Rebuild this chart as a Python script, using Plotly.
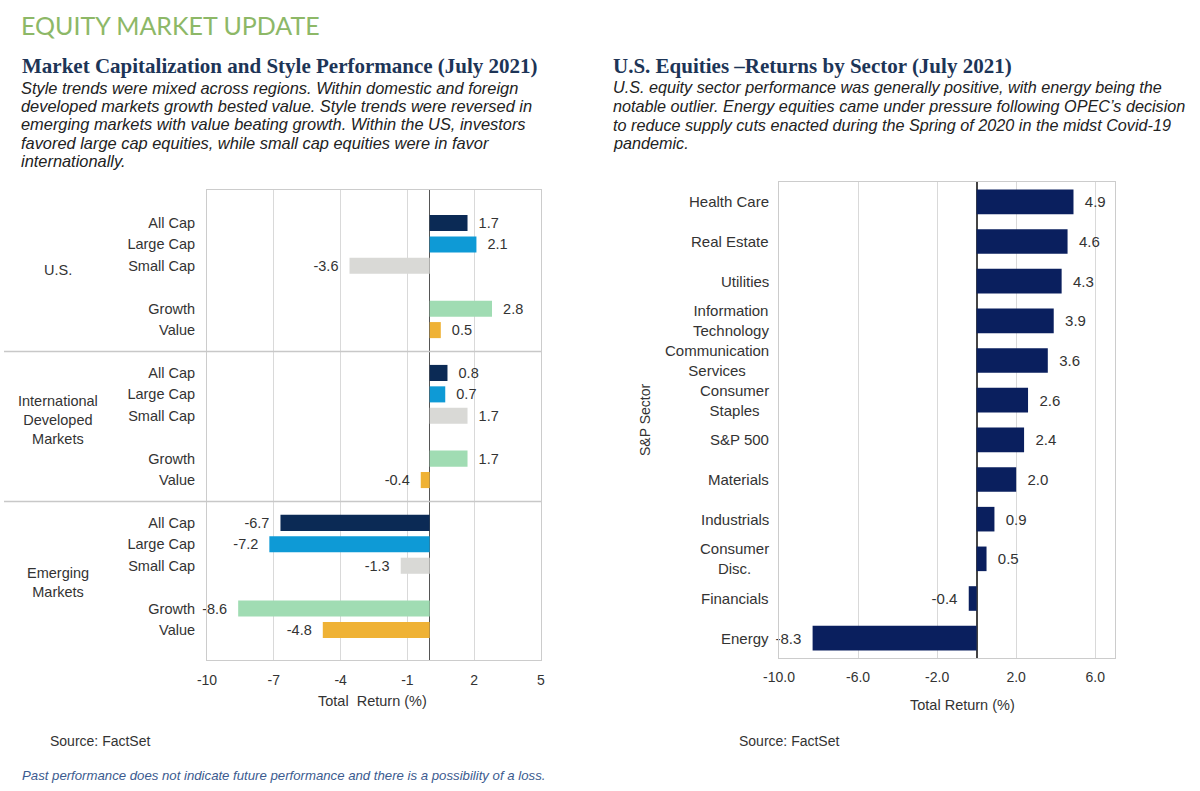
import plotly.graph_objects as go

# ---------------- data ----------------
groups = ["U.S.", "International<br>Developed<br>Markets", "Emerging<br>Markets"]
styles = ["All Cap", "Large Cap", "Small Cap", "Growth", "Value"]
style_colors = ["#0b2a55", "#0e9ad6", "#d9d9d6", "#a0dcb3", "#efb235"]
us_returns = [1.7, 2.1, -3.6, 2.8, 0.5]
intl_returns = [0.8, 0.7, 1.7, 1.7, -0.4]
em_returns = [-6.7, -7.2, -1.3, -8.6, -4.8]
left_ticks = [-10, -7, -4, -1, 2, 5]

sectors = ["Health Care", "Real Estate", "Utilities", "Information<br>Technology",
           "Communication<br>Services", "Consumer<br>Staples", "S&P 500", "Materials",
           "Industrials", "Consumer<br>Disc.", "Financials", "Energy"]
sector_returns = [4.9, 4.6, 4.3, 3.9, 3.6, 2.6, 2.4, 2.0, 0.9, 0.5, -0.4, -8.3]
right_ticks = [-10, -6, -2, 2, 6]

W, H = 1200, 791
def px(x):
    return x / W
def py(y):
    return 1 - y / H

FONT = "Liberation Sans, Arial, sans-serif"
TXT = "#333333"

fig = go.Figure()

# ---------------- left chart ----------------
within = [0, 1, 2, 4, 5]
group_step = 7
group_values = [us_returns, intl_returns, em_returns]

def lbl(v):
    return f"  {v:.1f}" if v >= 0 else f"{v:.1f}  "

tickvals, ticktext = [], []
for si, s in enumerate(styles):
    ys = [g * group_step + within[si] for g in range(len(groups))]
    xs = [group_values[g][si] for g in range(len(groups))]
    fig.add_trace(go.Bar(
        x=xs, y=ys, orientation="h", width=0.75,
        marker=dict(color=style_colors[si], line=dict(width=0)),
        text=[lbl(v) for v in xs], textposition="outside",
        textfont=dict(family=FONT, size=14.5, color=TXT),
        cliponaxis=False, xaxis="x", yaxis="y", showlegend=False,
        hoverinfo="x+y"))
    for g in range(len(groups)):
        tickvals.append(g * group_step + within[si])
        ticktext.append(s)

# ---------------- right chart ----------------
fig.add_trace(go.Bar(
    x=sector_returns, y=sectors, orientation="h", width=0.62,
    marker=dict(color="#0a1f5e", line=dict(width=0)),
    text=[lbl(v) for v in sector_returns], textposition="outside",
    textfont=dict(family=FONT, size=15, color=TXT),
    cliponaxis=False, xaxis="x2", yaxis="y2", showlegend=False))

L = dict(x0=207, x1=541, y0=190, y1=660)
R = dict(x0=779, x1=1115, y0=182, y1=658)

grid = "#d9d9d9"
frame = "#cccccc"
fig.update_layout(
    width=W, height=H, margin=dict(l=0, r=0, t=0, b=0, autoexpand=False),
    paper_bgcolor="white", plot_bgcolor="white",
    bargap=0.2, barmode="overlay",
    font=dict(family=FONT, color=TXT),
    xaxis=dict(domain=[px(L["x0"]), px(L["x1"])], range=[-10, 5],
               tickvals=left_ticks, ticktext=[str(t) for t in left_ticks],
               showgrid=True, gridcolor=grid, gridwidth=1,
               zeroline=True, zerolinecolor="#555555", zerolinewidth=1,
               showline=True, linecolor=frame, mirror=True, automargin=False,
               tickfont=dict(size=14, color=TXT), ticks="", ticklabelstandoff=7,
               anchor="y", fixedrange=True),
    yaxis=dict(domain=[py(L["y1"]), py(L["y0"])],
               range=[20.4, -1.54], tickvals=tickvals, ticktext=ticktext,
               showgrid=False, zeroline=False, showline=True, linecolor=frame,
               mirror=True, ticks="", ticklabelstandoff=8, automargin=False,
               tickfont=dict(size=14.5, color=TXT), anchor="x"),
    xaxis2=dict(domain=[px(R["x0"]), px(R["x1"])], range=[-10, 7],
                tickvals=right_ticks, ticktext=[f"{t:.1f}" for t in right_ticks],
                showgrid=True, gridcolor=grid, gridwidth=1,
                zeroline=True, zerolinecolor="#444444", zerolinewidth=1.5,
                showline=True, linecolor=frame, mirror=True, automargin=False,
                tickfont=dict(size=14, color=TXT), ticks="", ticklabelstandoff=6,
                anchor="y2"),
    yaxis2=dict(domain=[py(R["y1"]), py(R["y0"])], autorange="reversed",
                showticklabels=False, showgrid=False, zeroline=False,
                showline=True, linecolor=frame, mirror=True, ticks="", automargin=False,
                anchor="x2", categoryorder="array", categoryarray=sectors),
)

# separators in left chart
for g in range(1, len(groups)):
    ysep = g * group_step - 1
    fig.add_shape(type="line", xref="paper", yref="y", x0=px(4), x1=px(L["x1"]),
                  y0=ysep, y1=ysep, line=dict(color="#c8c8c8", width=1.5))

ann = []
# group labels
group_label_y = [2.2, 9.2, 16.8]
for g, name in enumerate(groups):
    ann.append(dict(text=name, x=px(58), y=group_label_y[g], xref="paper", yref="y",
                    xanchor="center", yanchor="middle", align="center", showarrow=False,
                    font=dict(family=FONT, size=14.5, color=TXT)))
# right chart category labels
for s in sectors:
    ann.append(dict(text=s, x=px(771), y=s, xref="paper", yref="y2",
                    xanchor="right", yanchor="middle", align="center", showarrow=False,
                    font=dict(family=FONT, size=15, color=TXT)))
# axis titles
ann.append(dict(text="Total  Return (%)", x=px(372), y=py(701), xref="paper", yref="paper",
                xanchor="center", yanchor="middle", showarrow=False,
                font=dict(family=FONT, size=14.5, color=TXT)))
ann.append(dict(text="Total Return (%)", x=px(962), y=py(705), xref="paper", yref="paper",
                xanchor="center", yanchor="middle", showarrow=False,
                font=dict(family=FONT, size=14.5, color=TXT)))
ann.append(dict(text="S&P Sector", x=px(645), y=py(420), xref="paper", yref="paper",
                xanchor="center", yanchor="middle", showarrow=False, textangle=-90,
                font=dict(family=FONT, size=14, color=TXT)))

# header texts
ann.append(dict(text="EQUITY MARKET UPDATE", x=px(19), y=py(25), xref="paper", yref="paper",
                xanchor="left", yanchor="middle", showarrow=False,
                font=dict(family="Lato, Open Sans, sans-serif", size=25, color="#8db867", weight=400)))

SERIF = "Liberation Serif, DejaVu Serif, serif"
NAVY = "#1d3557"
ann.append(dict(text="<b>Market Capitalization and Style Performance (July 2021)</b>",
                x=px(20), y=py(66), xref="paper", yref="paper", xanchor="left", yanchor="middle",
                showarrow=False, font=dict(family=SERIF, size=21, color=NAVY)))
ann.append(dict(text="<b>U.S. Equities \u2013Returns by Sector (July 2021)</b>",
                x=px(611), y=py(66), xref="paper", yref="paper", xanchor="left", yanchor="middle",
                showarrow=False, font=dict(family=SERIF, size=21, color=NAVY)))

left_body = ["Style trends were mixed across regions. Within domestic and foreign",
             "developed markets growth bested value. Style trends were reversed in",
             "emerging markets with value beating growth. Within the US, investors",
             "favored large cap equities, while small cap equities were in favor",
             "internationally."]
right_body = ["U.S. equity sector performance was generally positive, with energy being the",
              "notable outlier. Energy equities came under pressure following OPEC\u2019s decision",
              "to reduce supply cuts enacted during the Spring of 2020 in the midst Covid-19",
              "pandemic."]
for i, line in enumerate(left_body):
    ann.append(dict(text=f"<i>{line}</i>", x=px(19), y=py(88 + 18.2 * i), xref="paper", yref="paper",
                    xanchor="left", yanchor="middle", showarrow=False,
                    font=dict(family=FONT, size=16.4, color="#222222")))
for i, line in enumerate(right_body):
    ann.append(dict(text=f"<i>{line}</i>", x=px(611), y=py(86.5 + 19 * i), xref="paper", yref="paper",
                    xanchor="left", yanchor="middle", showarrow=False,
                    font=dict(family=FONT, size=16.2, color="#222222")))

ann.append(dict(text="Source: FactSet", x=px(48), y=py(741), xref="paper", yref="paper",
                xanchor="left", yanchor="middle", showarrow=False,
                font=dict(family=FONT, size=14, color=TXT)))
ann.append(dict(text="Source: FactSet", x=px(737), y=py(741), xref="paper", yref="paper",
                xanchor="left", yanchor="middle", showarrow=False,
                font=dict(family=FONT, size=14, color=TXT)))
ann.append(dict(text="<i>Past performance does not indicate future performance and there is a possibility of a loss.</i>",
                x=px(20), y=py(775), xref="paper", yref="paper",
                xanchor="left", yanchor="middle", showarrow=False,
                font=dict(family=FONT, size=13.2, color="#3b5b8f")))

fig.update_layout(annotations=ann)
fig.write_html("out.html")
